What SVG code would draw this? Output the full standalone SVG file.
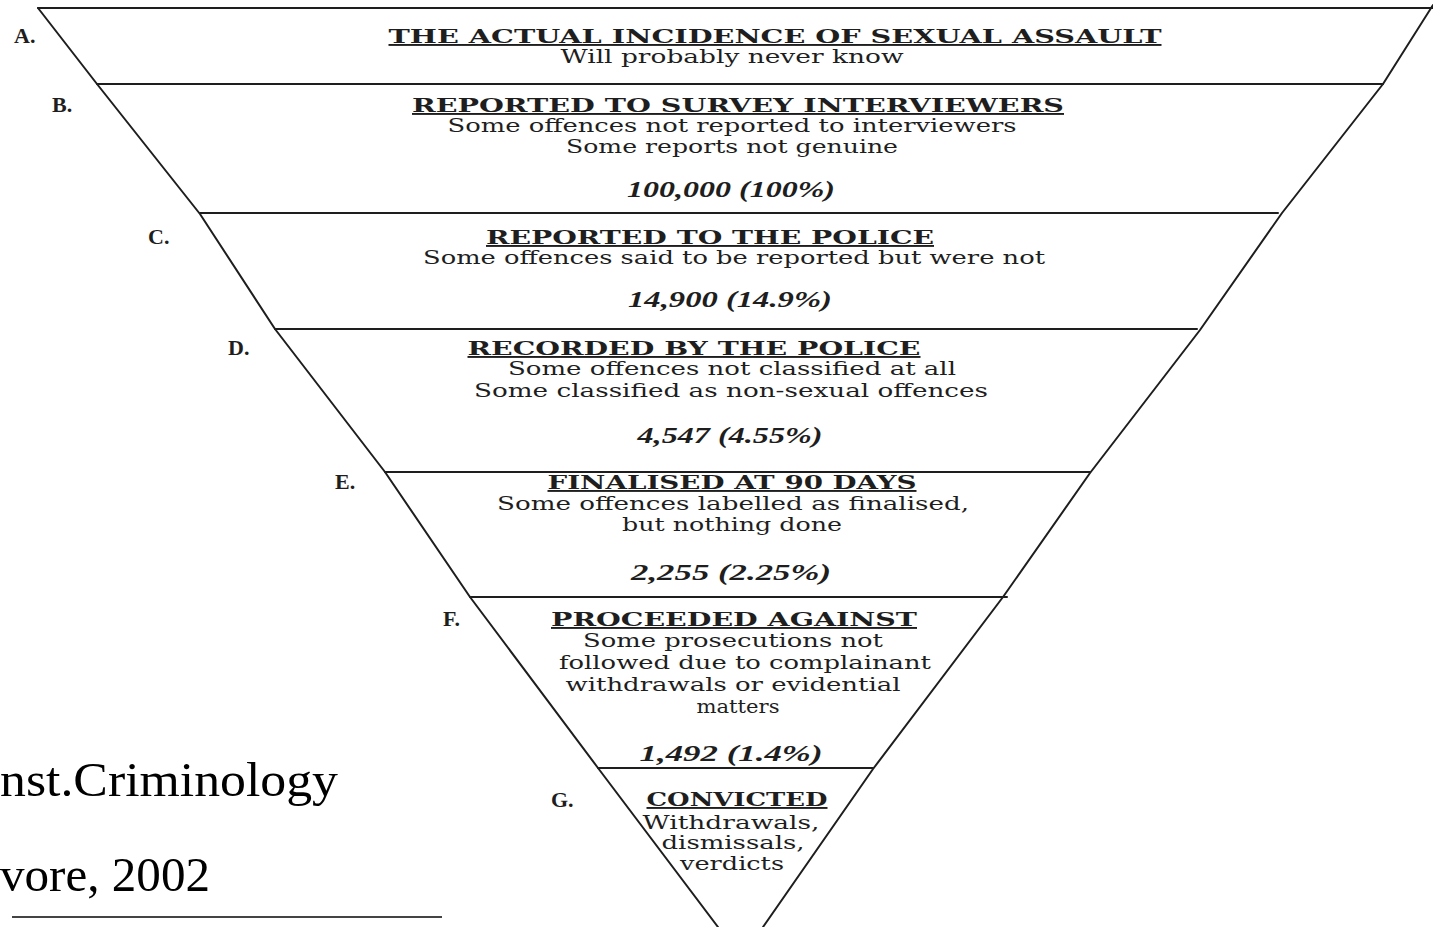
<svg xmlns="http://www.w3.org/2000/svg" width="1433" height="927" viewBox="0 0 1433 927">
<style>
.ln{stroke:#1e1e1e;stroke-width:2;fill:none;stroke-linecap:round;stroke-linejoin:round}
.h{font-family:"DejaVu Serif","Liberation Serif",serif;font-weight:bold;font-size:19px;fill:#1e1e1e;text-anchor:middle;text-decoration:underline}
.t{font-family:"DejaVu Serif","Liberation Serif",serif;font-size:19px;fill:#1e1e1e;text-anchor:middle}
.n{font-family:"Liberation Serif",serif;font-weight:bold;font-style:italic;font-size:23px;fill:#1e1e1e;text-anchor:middle}
.lb{font-family:"Liberation Serif",serif;font-weight:bold;font-size:22px;fill:#1e1e1e}
.src{font-family:"Liberation Serif",serif;font-size:49px;fill:#000}
</style>
<rect width="1433" height="927" fill="#fff"/>
<g id="connectors">
<polyline class="ln" points="38,8 97,84 200,214 275,329 385,472 470,597 598,768 718,927"/>
<polyline class="ln" points="1433,5 1383,84 1282,213 1200,330 1090,473 1003,597 873,769 763,927"/>
<line class="ln" x1="38" y1="8" x2="1433" y2="8"/>
<line class="ln" x1="97" y1="84" x2="1383" y2="84"/>
<line class="ln" x1="200" y1="213" x2="1278" y2="213"/>
<line class="ln" x1="275" y1="329" x2="1197" y2="329"/>
<line class="ln" x1="385" y1="472" x2="1090" y2="472"/>
<line class="ln" x1="470" y1="597" x2="1007" y2="597"/>
<line class="ln" x1="598" y1="768" x2="873" y2="768"/>
<line x1="12" y1="917" x2="442" y2="917" stroke="#444" stroke-width="2"/>
</g>
<g id="nodeA">
<text class="lb" x="14" y="43">A.</text>
<text class="h" x="775" y="43" textLength="773" lengthAdjust="spacingAndGlyphs">THE ACTUAL INCIDENCE OF SEXUAL ASSAULT</text>
<text class="t" x="732" y="63" textLength="343" lengthAdjust="spacingAndGlyphs">Will probably never know</text>
</g>
<g id="nodeB">
<text class="lb" x="52" y="112">B.</text>
<text class="h" x="738" y="112" textLength="652" lengthAdjust="spacingAndGlyphs">REPORTED TO SURVEY INTERVIEWERS</text>
<text class="t" x="732" y="132" textLength="569" lengthAdjust="spacingAndGlyphs">Some offences not reported to interviewers</text>
<text class="t" x="732" y="153" textLength="332" lengthAdjust="spacingAndGlyphs">Some reports not genuine</text>
<text class="n" x="731" y="197" textLength="208" lengthAdjust="spacingAndGlyphs">100,000 (100%)</text>
</g>
<g id="nodeC">
<text class="lb" x="148" y="244">C.</text>
<text class="h" x="710" y="244" textLength="448" lengthAdjust="spacingAndGlyphs">REPORTED TO THE POLICE</text>
<text class="t" x="734" y="264" textLength="622" lengthAdjust="spacingAndGlyphs">Some offences said to be reported but were not</text>
<text class="n" x="730" y="307" textLength="204" lengthAdjust="spacingAndGlyphs">14,900 (14.9%)</text>
</g>
<g id="nodeD">
<text class="lb" x="228" y="355">D.</text>
<text class="h" x="694" y="355" textLength="453" lengthAdjust="spacingAndGlyphs">RECORDED BY THE POLICE</text>
<text class="t" x="732" y="375" textLength="448" lengthAdjust="spacingAndGlyphs">Some offences not classified at all</text>
<text class="t" x="731" y="397" textLength="514" lengthAdjust="spacingAndGlyphs">Some classified as non-sexual offences</text>
<text class="n" x="730" y="443" textLength="185" lengthAdjust="spacingAndGlyphs">4,547 (4.55%)</text>
</g>
<g id="nodeE">
<text class="lb" x="335" y="489">E.</text>
<text class="h" x="732" y="489" textLength="369" lengthAdjust="spacingAndGlyphs">FINALISED AT 90 DAYS</text>
<text class="t" x="733" y="510" textLength="472" lengthAdjust="spacingAndGlyphs">Some offences labelled as finalised,</text>
<text class="t" x="732" y="531" textLength="220" lengthAdjust="spacingAndGlyphs">but nothing done</text>
<text class="n" x="731" y="580" textLength="200" lengthAdjust="spacingAndGlyphs">2,255 (2.25%)</text>
</g>
<g id="nodeF">
<text class="lb" x="443" y="626">F.</text>
<text class="h" x="734" y="626" textLength="366" lengthAdjust="spacingAndGlyphs">PROCEEDED AGAINST</text>
<text class="t" x="733" y="647" textLength="300" lengthAdjust="spacingAndGlyphs">Some prosecutions not</text>
<text class="t" x="745" y="669" textLength="372" lengthAdjust="spacingAndGlyphs">followed due to complainant</text>
<text class="t" x="733" y="691" textLength="335" lengthAdjust="spacingAndGlyphs">withdrawals or evidential</text>
<text class="t" x="738" y="713" textLength="83" lengthAdjust="spacingAndGlyphs">matters</text>
<text class="n" x="731" y="761" textLength="183" lengthAdjust="spacingAndGlyphs">1,492 (1.4%)</text>
</g>
<g id="nodeG">
<text class="lb" x="551" y="807">G.</text>
<text class="h" x="737" y="806" textLength="181" lengthAdjust="spacingAndGlyphs">CONVICTED</text>
<text class="t" x="731" y="829" textLength="177" lengthAdjust="spacingAndGlyphs">Withdrawals,</text>
<text class="t" x="733" y="849" textLength="143" lengthAdjust="spacingAndGlyphs">dismissals,</text>
<text class="t" x="732" y="870" textLength="104" lengthAdjust="spacingAndGlyphs">verdicts</text>
</g>
<g id="source">
<text class="src" x="0" y="796" textLength="338" lengthAdjust="spacingAndGlyphs">nst.Criminology</text>
<text class="src" x="0" y="891" textLength="210" lengthAdjust="spacingAndGlyphs">vore, 2002</text>
</g>
</svg>
